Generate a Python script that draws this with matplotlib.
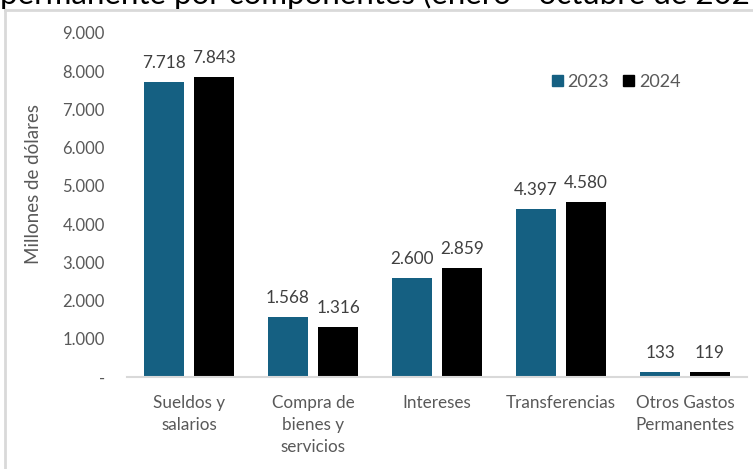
import matplotlib
matplotlib.use("Agg")
import matplotlib.pyplot as plt
from matplotlib.lines import Line2D
from matplotlib.patches import Patch
import numpy as np

plt.rcParams['font.family'] = ['Lato', 'DejaVu Sans']

categories = ["Sueldos y\nsalarios", "Compra de\nbienes y\nservicios", "Intereses",
              "Transferencias", "Otros Gastos\nPermanentes"]
values_2023 = [7718, 1568, 2600, 4397, 133]
values_2024 = [7843, 1316, 2859, 4580, 119]
series_names = ["2023", "2024"]
y_ticks = [0, 1000, 2000, 3000, 4000, 5000, 6000, 7000, 8000, 9000]

color_2023 = "#156082"
color_2024 = "#000000"
grey_text = "#595959"

def fmt(v):
    return "-" if v == 0 else f"{v:,.0f}".replace(",", ".")

fig = plt.figure(figsize=(7.53, 4.69), dpi=100)
ax = fig.add_axes([127 / 753, 1 - 377 / 469, 620 / 753, 344 / 469])

x = np.arange(len(categories))
width = 40 / 124
offset = 25 / 124
b1 = ax.bar(x - offset, values_2023, width, color=color_2023)
b2 = ax.bar(x + offset, values_2024, width, color=color_2024)

for bars, vals in ((b1, values_2023), (b2, values_2024)):
    for rect, v in zip(bars, vals):
        ax.annotate(fmt(v), (rect.get_x() + rect.get_width() / 2, v),
                    xytext=(0, 8), textcoords="offset points",
                    ha="center", va="bottom", fontsize=12.3, color="#404040")

ax.set_xlim(-0.5, len(categories) - 0.5)
ax.set_ylim(0, 9000)
ax.set_yticks(y_ticks)
ax.set_yticklabels([fmt(t) for t in y_ticks])
ax.set_xticks(x)
ax.set_xticklabels(categories, linespacing=1.45, va="top")
ax.tick_params(axis="y", length=0, pad=16, labelsize=12, labelcolor=grey_text)
ax.tick_params(axis="x", length=0, pad=13, labelsize=12.3, labelcolor=grey_text)
for side in ("top", "right", "left"):
    ax.spines[side].set_visible(False)
ax.spines["bottom"].set_color("#d9d9d9")
ax.spines["bottom"].set_linewidth(1.5)

fig.text(34 / 753, 1 - 184 / 469, "Millones de dólares", rotation=90,
         ha="center", va="center", fontsize=13.5, color=grey_text)

handles = [Patch(color=color_2023), Patch(color=color_2024)]
ax.legend(handles, series_names, loc="upper left", bbox_to_anchor=(552 / 753, 1 - 74 / 469),
          bbox_transform=fig.transFigure, ncol=2, frameon=False, fontsize=13,
          handlelength=0.6, handleheight=0.6, handletextpad=0.25, columnspacing=0.8,
          labelcolor=grey_text, borderaxespad=0, borderpad=0)

# chart frame and the title running above it
fig.add_artist(Line2D([5 / 753, 5 / 753], [0, 1 - 10 / 469], transform=fig.transFigure,
                      color="#d9d9d9", linewidth=2))
fig.add_artist(Line2D([5 / 753, 1], [1 - 10 / 469, 1 - 10 / 469], transform=fig.transFigure,
                      color="#d9d9d9", linewidth=2))
fig.text(0 / 753, 1 - 4 / 469, "permanente por componentes (enero - octubre de 2024)",
         ha="left", va="baseline", fontsize=22.5, color="#000000")

fig.savefig("out.png", dpi=100)
